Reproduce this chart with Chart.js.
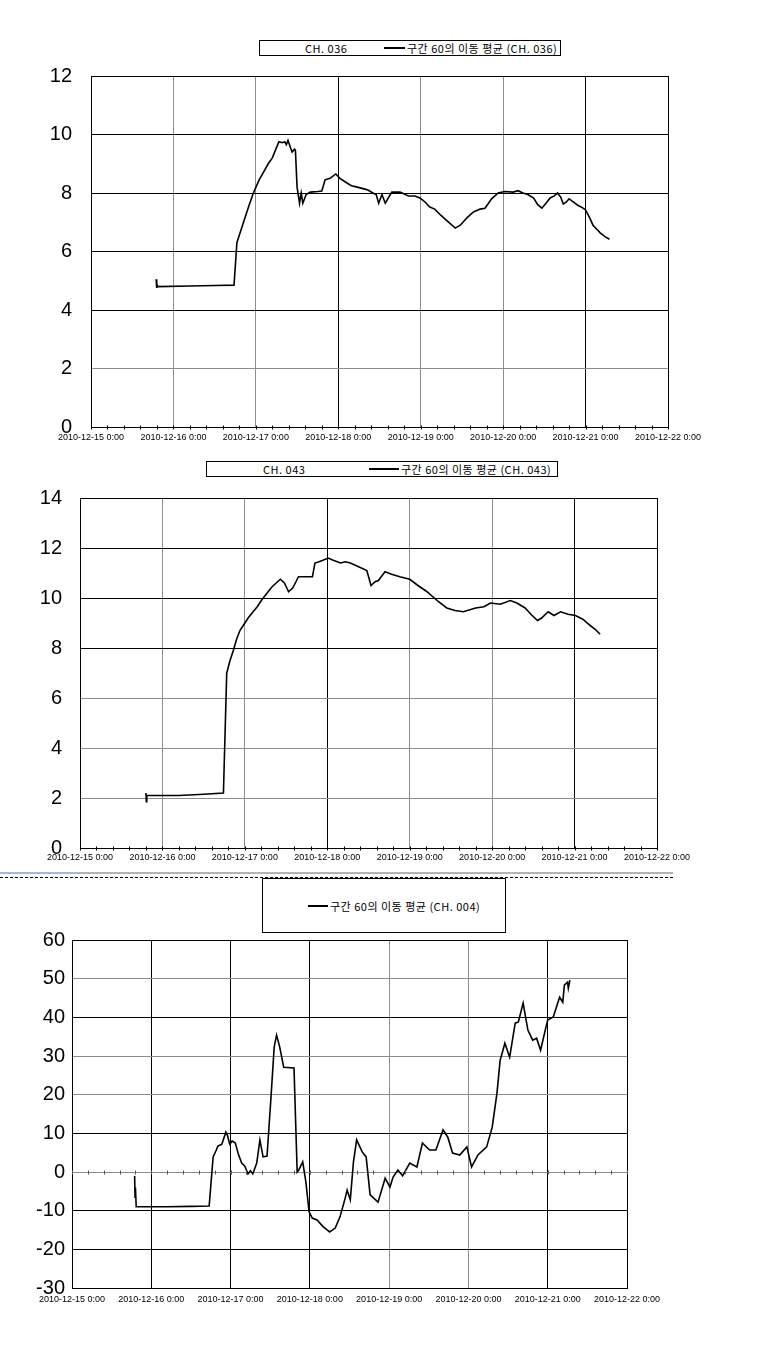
<!DOCTYPE html>
<html>
<head>
<meta charset="utf-8">
<script src="https://cdn.jsdelivr.net/npm/chart.js@4.4.1/dist/chart.umd.min.js"></script>
<style>
  body { margin: 0; background: #fff; width: 770px; height: 1347px; position: relative; overflow: hidden; }
  .box { position: absolute; }
  .legend { position: absolute; border: 1px solid #000; background: #fff; font: 11px "Noto Sans CJK KR", sans-serif; letter-spacing: 0.5px; color: #000; z-index: 2; }
  .legend span { position: absolute; white-space: nowrap; line-height: 14px; }
  .legend i { position: absolute; height: 2px; background: #000; }
</style>
</head>
<body>

<div class="legend" style="left:259px;top:40px;width:300px;height:14px;">
  <span style="left:45px;top:0;">CH. 036</span>
  <i style="left:124px;top:6px;width:21px;"></i>
  <span style="left:147px;top:0;">구간 60의 이동 평균 (CH. 036)</span>
</div>
<div class="box" style="left:0;top:60px;"><canvas id="c1" width="770" height="390"></canvas></div>

<div class="legend" style="left:206px;top:461px;width:350px;height:14px;">
  <span style="left:56px;top:0;">CH. 043</span>
  <i style="left:162px;top:6px;width:30px;"></i>
  <span style="left:194px;top:0;">구간 60의 이동 평균 (CH. 043)</span>
</div>
<div class="box" style="left:0;top:480px;"><canvas id="c2" width="770" height="380"></canvas></div>

<div style="position:absolute;left:0;top:872px;width:673px;height:2px;background:#b4b4b4;"></div>
<div style="position:absolute;left:0;top:872px;width:80px;height:2px;background:#a8b8d0;"></div>
<div style="position:absolute;left:0;top:877px;width:673px;border-top:1px dashed #000;"></div>

<div class="legend" style="left:262px;top:878px;width:242px;height:53px;">
  <i style="left:45px;top:26px;width:20px;"></i>
  <span style="left:67px;top:20px;">구간 60의 이동 평균 (CH. 004)</span>
</div>
<div class="box" style="left:0;top:925px;"><canvas id="c3" width="770" height="385"></canvas></div>

<script>
// x values are days after 2010-12-15 0:00
var dateLabels = ['2010-12-15 0:00', '2010-12-16 0:00', '2010-12-17 0:00', '2010-12-18 0:00',
                  '2010-12-19 0:00', '2010-12-20 0:00', '2010-12-21 0:00', '2010-12-22 0:00'];

var ch036Days = [0.79, 0.795, 0.80, 0.81, 1.2, 1.5, 1.735, 1.77, 1.85, 1.92, 1.97, 2.04, 2.09, 2.15, 2.2, 2.25, 2.28, 2.32, 2.35, 2.37, 2.39, 2.42, 2.44, 2.47, 2.48, 2.5, 2.53, 2.55, 2.57, 2.61, 2.66, 2.75, 2.80, 2.84, 2.9, 2.97, 3.02, 3.1, 3.16, 3.23, 3.3, 3.36, 3.42, 3.46, 3.49, 3.53, 3.57, 3.65, 3.75, 3.85, 3.93, 3.99, 4.05, 4.11, 4.17, 4.24, 4.32, 4.42, 4.48, 4.56, 4.64, 4.72, 4.78, 4.86, 4.94, 5.02, 5.12, 5.18, 5.24, 5.3, 5.37, 5.42, 5.47, 5.52, 5.57, 5.62, 5.66, 5.7, 5.73, 5.77, 5.8, 5.85, 5.9, 5.96, 6.0, 6.05, 6.09, 6.14, 6.18, 6.24, 6.29];
var ch036Vals = [5.05, 4.75, 4.9, 4.8, 4.82, 4.84, 4.85, 6.3, 7.0, 7.6, 8.0, 8.45, 8.7, 9.0, 9.2, 9.55, 9.75, 9.72, 9.75, 9.65, 9.8, 9.55, 9.4, 9.5, 9.45, 8.2, 7.65, 8.0, 7.65, 7.95, 8.03, 8.05, 8.07, 8.45, 8.5, 8.65, 8.5, 8.35, 8.25, 8.2, 8.15, 8.1, 8.0, 7.95, 7.65, 7.95, 7.65, 8.03, 8.03, 7.9, 7.9, 7.83, 7.7, 7.52, 7.45, 7.25, 7.05, 6.8, 6.9, 7.15, 7.35, 7.45, 7.48, 7.8, 8.0, 8.05, 8.03, 8.08, 8.0, 7.95, 7.83, 7.6, 7.48, 7.65, 7.83, 7.9, 8.0, 7.85, 7.62, 7.7, 7.8, 7.7, 7.59, 7.5, 7.42, 7.15, 6.9, 6.75, 6.63, 6.5, 6.42];

var ch043Days = [0.80, 0.805, 0.81, 1.2, 1.5, 1.74, 1.78, 1.82, 1.86, 1.9, 1.94, 2.0, 2.04, 2.1, 2.15, 2.2, 2.27, 2.33, 2.38, 2.43, 2.48, 2.53, 2.58, 2.62, 2.65, 2.75, 2.82, 2.85, 2.9, 2.94, 3.01, 3.08, 3.16, 3.22, 3.28, 3.38, 3.48, 3.53, 3.58, 3.62, 3.70, 3.78, 3.88, 4.0, 4.1, 4.21, 4.28, 4.35, 4.45, 4.55, 4.65, 4.8, 4.9, 4.98, 5.1, 5.22, 5.3, 5.4, 5.47, 5.55, 5.6, 5.68, 5.75, 5.83, 5.92, 6.01, 6.1, 6.19, 6.25, 6.31];
var ch043Vals = [2.2, 1.85, 2.1, 2.1, 2.15, 2.2, 7.0, 7.5, 7.9, 8.35, 8.7, 9.0, 9.2, 9.45, 9.65, 9.9, 10.2, 10.45, 10.6, 10.75, 10.6, 10.25, 10.4, 10.65, 10.85, 10.85, 10.85, 11.4, 11.45, 11.5, 11.6, 11.5, 11.4, 11.45, 11.4, 11.25, 11.1, 10.5, 10.65, 10.7, 11.05, 10.95, 10.85, 10.75, 10.5, 10.25, 10.05, 9.85, 9.6, 9.5, 9.45, 9.6, 9.65, 9.8, 9.75, 9.9, 9.8, 9.6, 9.35, 9.1, 9.2, 9.45, 9.3, 9.45, 9.35, 9.3, 9.15, 8.9, 8.75, 8.55];

var ch004Days = [0.79, 0.795, 0.80, 0.81, 1.2, 1.5, 1.73, 1.78, 1.82, 1.84, 1.87, 1.89, 1.94, 1.96, 1.99, 2.02, 2.06, 2.1, 2.14, 2.18, 2.22, 2.25, 2.28, 2.33, 2.37, 2.41, 2.46, 2.51, 2.55, 2.58, 2.62, 2.67, 2.8, 2.84, 2.86, 2.91, 2.95, 2.99, 3.03, 3.09, 3.17, 3.25, 3.32, 3.38, 3.44, 3.47, 3.51, 3.55, 3.59, 3.66, 3.71, 3.76, 3.86, 3.95, 4.01, 4.05, 4.11, 4.17, 4.26, 4.35, 4.42, 4.51, 4.59, 4.68, 4.74, 4.8, 4.89, 4.98, 5.04, 5.12, 5.23, 5.3, 5.36, 5.4, 5.46, 5.52, 5.59, 5.63, 5.69, 5.75, 5.81, 5.86, 5.91, 5.96, 6.0, 6.07, 6.15, 6.19, 6.21, 6.25, 6.26, 6.28];
var ch004Vals = [-1.0, -6.5, -4.0, -9.0, -9.0, -8.9, -8.8, 3.9, 5.7, 6.7, 7.0, 7.2, 10.3, 9.5, 7.2, 8.0, 7.5, 4.5, 2.3, 1.5, -0.5, 0.3, -0.5, 2.3, 8.3, 3.9, 4.1, 19.4, 32.3, 35.4, 32.3, 27.1, 26.9, 0.0, 0.5, 2.6, -2.6, -10.3, -11.9, -12.4, -14.2, -15.5, -14.5, -11.6, -7.2, -4.7, -7.2, 2.6, 8.3, 5.2, 3.9, -5.9, -7.8, -1.6, -3.9, -1.3, 0.5, -1.0, 2.3, 1.3, 7.5, 5.7, 5.7, 10.9, 9.0, 4.9, 4.4, 6.5, 1.3, 4.4, 6.5, 11.6, 20.4, 28.9, 33.3, 29.7, 38.5, 38.8, 43.7, 36.7, 34.1, 34.6, 31.5, 35.9, 39.3, 40.1, 45.2, 43.9, 48.3, 49.1, 47.5, 49.6];

var GRAY = '#8c8c8c';

// small tick marks every 0.2 day along a horizontal line (y value given per chart)
var minorTicks = {
    id: 'minorTicks',
    afterDatasetsDraw: function (chart, args, opts) {
        var xs = chart.scales.x, ys = chart.scales.y;
        var y = Math.round(ys.getPixelForValue(opts.at)) + 0.5;
        var c = chart.ctx;
        c.save();
        c.strokeStyle = opts.color || '#000';
        c.lineWidth = 1;
        c.beginPath();
        for (var i = 0; i <= 35; i++) {
            var x = Math.round(xs.getPixelForValue(i * 0.2)) + 0.5;
            c.moveTo(x, y - 2);
            c.lineTo(x, y + 2);
        }
        c.stroke();
        c.restore();
    }
};

function makeChart(id, days, vals, o) {
    var pts = days.map(function (d, i) { return {x: d, y: vals[i]}; });
    return new Chart(document.getElementById(id), {
        type: 'line',
        data: {
            datasets: [{
                data: pts,
                borderColor: '#000',
                borderWidth: 1.6,
                pointRadius: 0,
                tension: 0,
                fill: false
            }]
        },
        options: {
            responsive: false,
            animation: false,
            layout: {padding: {top: o.top, right: o.right, left: 0, bottom: 0}},
            plugins: {
                legend: {display: false},
                tooltip: {enabled: false},
                minorTicks: {at: o.minorAt, color: o.minorColor}
            },
            scales: {
                x: {
                    type: 'linear',
                    min: 0, max: 7,
                    afterFit: function (s) { s.height = o.xh; },
                    ticks: {
                        stepSize: 1,
                        padding: o.xpad,
                        maxRotation: 0,
                        autoSkip: false,
                        color: '#000',
                        font: {family: 'Liberation Sans', size: 9},
                        callback: function (v) { return dateLabels[v]; }
                    },
                    grid: {
                        drawTicks: false,
                        color: function (ctx) { return o.xGray.indexOf(ctx.tick.value) >= 0 ? GRAY : '#000'; }
                    },
                    border: {color: '#000'}
                },
                y: {
                    min: o.ymin, max: o.ymax,
                    afterFit: function (s) {
                        s.width = o.yw;
                        s.paddingTop = 0;
                        s.paddingBottom = 0;
                    },
                    ticks: {
                        stepSize: o.step,
                        padding: o.ypad,
                        color: '#000',
                        font: {family: 'Liberation Sans', size: 20}
                    },
                    grid: {
                        drawTicks: false,
                        color: function (ctx) { return o.yGray.indexOf(ctx.tick.value) >= 0 ? GRAY : '#000'; }
                    },
                    border: {color: '#000'}
                }
            }
        },
        plugins: [minorTicks]
    });
}

makeChart('c1', ch036Days, ch036Vals, {
    top: 16, right: 102, xh: 23, yw: 91, xpad: 5, ypad: 19,
    ymin: 0, ymax: 12, step: 2, xGray: [1, 2, 4, 5], yGray: [2], minorAt: 0
});
makeChart('c2', ch043Days, ch043Vals, {
    top: 18, right: 113, xh: 12, yw: 80, xpad: 4, ypad: 18,
    ymin: 0, ymax: 14, step: 2, xGray: [1, 2, 4, 5], yGray: [2, 4, 6], minorAt: 0
});
makeChart('c3', ch004Days, ch004Vals, {
    top: 15, right: 143, xh: 22, yw: 72, xpad: 6, ypad: 7,
    ymin: -30, ymax: 60, step: 10, xGray: [4, 5], yGray: [0, 20, 30, 50], minorAt: 0, minorColor: '#555'
});
</script>
</body>
</html>
